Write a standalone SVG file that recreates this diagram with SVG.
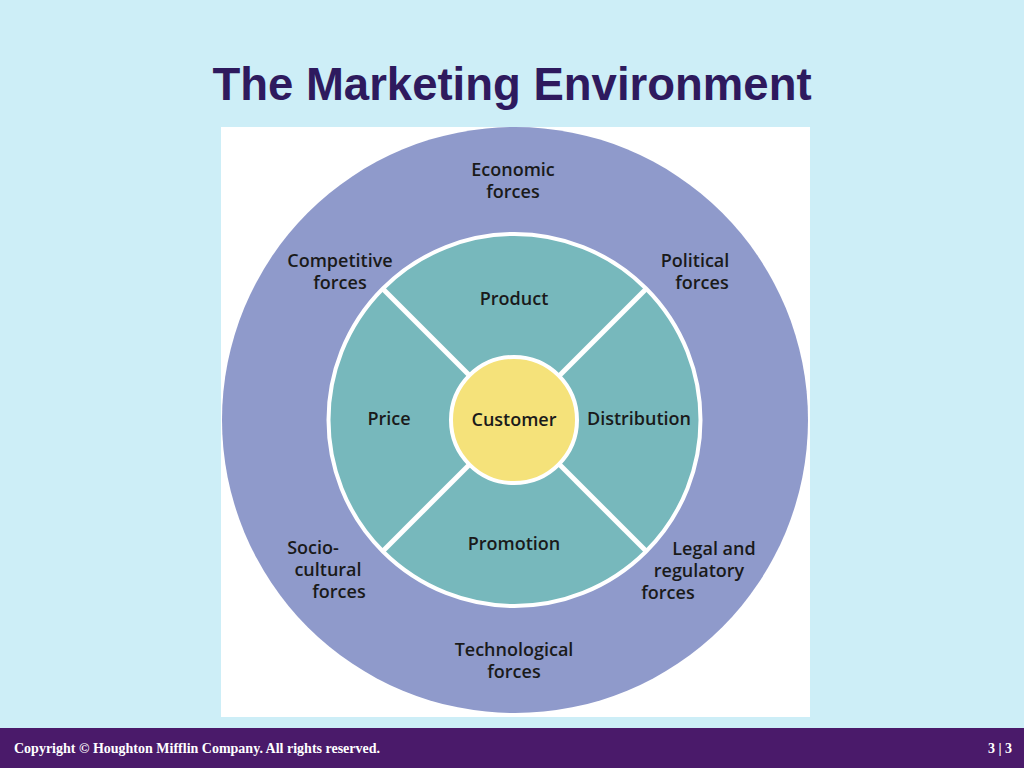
<svg xmlns="http://www.w3.org/2000/svg" width="1024" height="768" viewBox="0 0 1024 768">
<style>
.l{font-family:"Open Sans","Liberation Sans",sans-serif;font-size:18px;fill:#1a1a1a;text-anchor:middle;font-weight:600}
.div{stroke:#fff;stroke-width:5}
</style>
<rect width="1024" height="768" fill="#cdeef7"/>
<text x="512" y="100" font-family="Liberation Sans,Arial,sans-serif" font-size="45.5" font-weight="bold" fill="#2e1a5e" text-anchor="middle">The Marketing Environment</text>
<rect x="221" y="127" width="589" height="590" fill="#fff"/>
<g id="outer"><circle cx="515" cy="420" r="293" fill="#8f9acb"/></g>
<g id="ring"><circle cx="514.5" cy="420" r="186" fill="#77b8bc" stroke="#fff" stroke-width="4"/></g>
<g id="connectors">
<line class="div" x1="470" y1="376" x2="383" y2="289"/>
<line class="div" x1="559" y1="376" x2="646" y2="289"/>
<line class="div" x1="470" y1="464" x2="383" y2="551"/>
<line class="div" x1="559" y1="464" x2="646" y2="551"/>
</g>
<g id="customer"><circle cx="514" cy="420" r="63" fill="#f5e27a" stroke="#fff" stroke-width="4"/><text class="l" x="514" y="426">Customer</text></g>
<g id="product"><text class="l" x="514" y="305">Product</text></g>
<g id="price"><text class="l" x="389" y="425">Price</text></g>
<g id="distribution"><text class="l" x="639" y="425">Distribution</text></g>
<g id="promotion"><text class="l" x="514" y="550">Promotion</text></g>
<g id="economic"><text class="l" x="513" y="176">Economic</text><text class="l" x="513" y="198">forces</text></g>
<g id="competitive"><text class="l" x="340" y="267">Competitive</text><text class="l" x="340" y="289">forces</text></g>
<g id="political"><text class="l" x="695" y="267">Political</text><text class="l" x="702" y="289">forces</text></g>
<g id="socio"><text class="l" x="313" y="554">Socio-</text><text class="l" x="328" y="576">cultural</text><text class="l" x="339" y="598">forces</text></g>
<g id="legal"><text class="l" x="714" y="555">Legal and</text><text class="l" x="699" y="577">regulatory</text><text class="l" x="668" y="599">forces</text></g>
<g id="tech"><text class="l" x="514" y="656">Technological</text><text class="l" x="514" y="678">forces</text></g>
<rect x="0" y="728" width="1024" height="40" fill="#4a1a6a"/>
<text x="14" y="753" font-family="Liberation Serif,serif" font-size="14" font-weight="bold" fill="#fff">Copyright © Houghton Mifflin Company. All rights reserved.</text>
<text x="1012" y="753" font-family="Liberation Serif,serif" font-size="14" font-weight="bold" fill="#fff" text-anchor="end">3  |  3</text>
</svg>
